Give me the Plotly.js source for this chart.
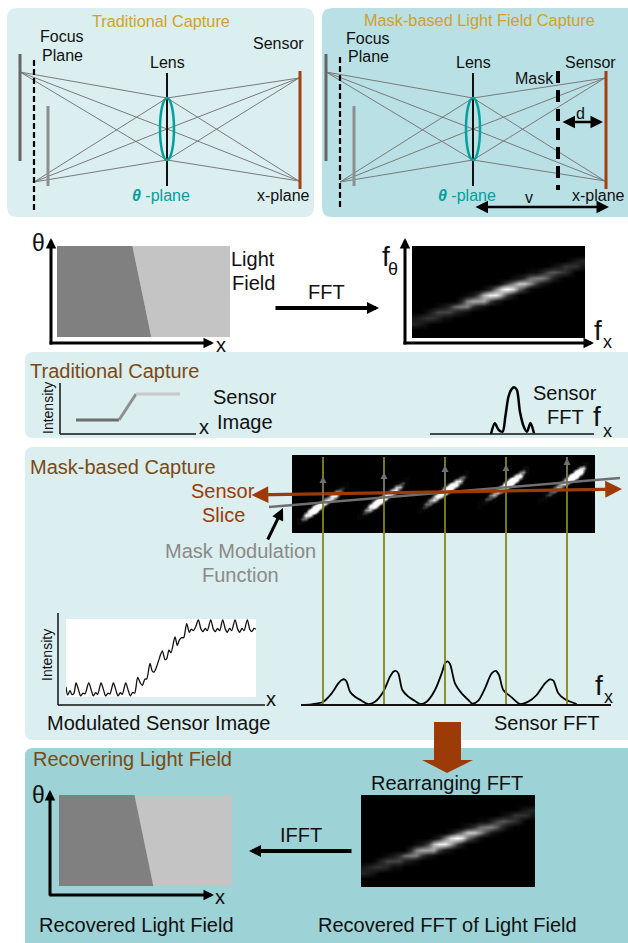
<!DOCTYPE html>
<html><head><meta charset="utf-8">
<script src="https://cdn.plot.ly/plotly-3.0.1.min.js"></script>
<style>html,body{margin:0;padding:0;background:#fff}#p{width:628px;height:943px}</style>
</head><body><div id="p"></div>
<script>
// ---------- values ----------
const fftRows = [
"000000000000000000000000000000",
"000000000000000000000000000000",
"000000000000000000000000000123",
"000000000000000000000000124442",
"000000000000000000001135654200",
"000000000000000001247886310000",
"000000000000000258cc9521000000",
"000000000000138dfd741000000000",
"000000000125beea52000000000000",
"0000000038aaa52100000000000000",
"000012478842100000000000000000",
"001355532100000000000000000000",
"234431100000000000000000000000",
"321000000000000000000000000000",
"000000000000000000000000000000",
"000000000000000000000000000000"];
const tile1 = ["00000000000011","00000000001331","00000000027620","00000002498200","00000037972000","000016c9310000","0002af92000000","003be710000000","03993000000000","25510000000000","21000000000000"];
const tile2 = ["00000000000011","00000000001341","00000000027720","00000002499200","00000038972000","000016eb310000","00028fa2000000","0029c710000000","02673000000000","13310000000000","11000000000000"];
const tile3 = ["00000000000012","00000000001452","00000000038830","000000027ca310","0000003af82000","000014ce610000","00016b93000000","00268510000000","02552000000000","13310000000000","11000000000000"];
const tile4 = ["00000000000022","00000000001562","00000000039a30","000000027eb310","0000002afa2000","000004bd610000","00015a83000000","00157410000000","01442000000000","12200000000000","10000000000000"];
const tile5 = ["00000000000022","00000000002782","0000000003bd50","000000026ed410","00000027da3000","00000379510000","00014762000000","00146310000000","01341000000000","12200000000000","10000000000000"];

const modX = [108,113,120,126,132,138,146,152,159,165,176,184,190,197,203,213,221,227,234,240,250,258,264,271,277,287,295,301,308,314,323,331,337,345,350,360,367,372,380,386,397,405,410,417,423,435,442,448,455,461,470,478,484,490,497,505,513,519,526,532,542,550,556,563,569,578,586,592,599,605,615,623,629,636,642,652,660,666,672,678];
const modI = [13,2.5,8,3,5,18,8.5,1.5,5,4,18,8.5,1.5,5.5,3.5,18,8.5,1.5,5,4,18,8.5,1.5,5.5,3.5,18,8,1.5,6,5,25,18,15,23,23,43,33,32,39,47,59,48,49,60,57,77,66,73,76,76,94,83,87,85,90,99,87,84,88,85,99,87,84,88,85,99,87,83,88,85,99,87,83,88,85,99,86,84,88,87];

const fftX = [18,50,85,110,130,140,148,155,165,180,200,218,240,265,285,295,303,310,322,340,360,375,395,420,440,450,457,465,480,500,520,532,550,570,590,603,612,625,650,675,700,725,750,765,775,790,810,845];
const fftA = [0,2,10,35,65,75,77,70,40,25,13,3,10,40,85,100,102,95,45,25,12,3,10,45,95,125,131,123,65,35,15,4,13,50,95,102,90,45,23,3,10,30,65,77,73,35,17,3];

const smallFftX = [491,494.8,498.7,502.6,505.3,508.4,511.5,514.2,516.9,520,523.9,527,530.5,534];
const smallFftA = [0,10.7,4,2.3,17,37,44.7,46.7,44,22,7,2.3,11,0.7];

const sensDarkX=[76,119], sensDarkI=[14,14];
const sensRiseX=[119,136], sensRiseI=[14,40];
const sensLightX=[136,180], sensLightI=[40,40];

const lfDarkX=[0,0.436,0.545,0], lfDarkY=[0,0,1,1];
const lfLightX=[0.436,1,1,0.545], lfLightY=[0,0,1,1];

// optics diagram (left panel coordinates; right panel is the same bench moved along)
const rayX=[20,167,299,null,20,167,299,null,20,167,299,null,34,167,299,null,34,167,299,null,34,167,299];
const rayY=[72,98,181,null,72,129,181,null,72,160,181,null,182,98,78,null,182,129,78,null,182,160,78];
const slitX=[323,384,445,506,567];
const arrowTipY=[476,472,465,464,458];
const arrowBaseY=[502,497,492,487,482];
const greyLineX=[269,620], greyLineY=[507,478];

const INK='#111111', GOLD='#d2a227', BROWN='#7a4a14', RUST='#9c3a08', TEAL='#00a09c', OLIVE='#85851a';
const FONT='"Liberation Sans", Arial, sans-serif';

// ---------- layout helpers ----------
const W=628,H=943;
const layout={width:W,height:H,margin:{l:0,r:0,t:0,b:0},paper_bgcolor:'#fff',plot_bgcolor:'rgba(0,0,0,0)',showlegend:false,
  xaxis:{domain:[0,1],range:[0,W],visible:false},yaxis:{domain:[0,1],range:[H,0],visible:false},shapes:[],annotations:[]};
function axes(n,x0,x1,y0,y1,xr,yr){
  layout['xaxis'+n]={domain:[x0/W,x1/W],range:xr,visible:false,anchor:'y'+n};
  layout['yaxis'+n]={domain:[1-y1/H,1-y0/H],range:yr,visible:false,anchor:'x'+n};
  return {xaxis:'x'+n,yaxis:'y'+n};
}
const FG=axes(16,0,W,0,H,[0,W],[H,0]);
const traces=[];
const SOFT=[[0,'#000'],[0.25,'#2c2c2c'],[0.6,'#929292'],[1,'#fff']];
const SHARP=[[0,'#000'],[0.2,'#0a0a0a'],[0.45,'#666'],[0.75,'#ececec'],[1,'#fff']];
function line(x,y,color,width,extra){traces.push(Object.assign({type:'scatter',mode:'lines',x,y,hoverinfo:'skip',line:Object.assign({color,width},extra||{})},FG));}
function poly(x,y,color,ax){traces.push(Object.assign({type:'scatter',mode:'lines',x,y,fill:'toself',fillcolor:color,line:{width:0,color},hoverinfo:'skip'},ax||FG));}
function curve(ax,x,y,color,width,smooth){traces.push(Object.assign({type:'scatter',mode:'lines',x,y,hoverinfo:'skip',line:{color,width,shape:smooth?'spline':'linear',smoothing:smooth?0.8:0}},ax));}
function heat(ax,rows,scale,zmax){traces.push(Object.assign({type:'heatmap',z:rows.map(r=>[...r].map(c=>parseInt(c,16))),zmin:0,zmax,zsmooth:'best',showscale:false,hoverinfo:'skip',colorscale:scale},ax));}
function rrect(x0,y0,x1,y1,r,color){
  layout.shapes.push({type:'path',xref:'x',yref:'y',layer:'below',line:{width:0},fillcolor:color,
   path:`M${x0+r},${y0}L${x1-r},${y0}Q${x1},${y0} ${x1},${y0+r}L${x1},${y1-r}Q${x1},${y1} ${x1-r},${y1}L${x0+r},${y1}Q${x0},${y1} ${x0},${y1-r}L${x0},${y0+r}Q${x0},${y0} ${x0+r},${y0}Z`});
}
function rect(x0,y0,x1,y1,color){layout.shapes.push({type:'rect',xref:'x',yref:'y',layer:'below',x0,y0,x1,y1,line:{width:0},fillcolor:color});}
function text(t,x,y,size,color,opt){layout.annotations.push(Object.assign({text:t,x,y,xref:'x',yref:'y',showarrow:false,xanchor:'center',yanchor:'middle',font:{family:FONT,size,color:color||INK}},opt||{}));}
function arrow(x0,y0,x1,y1,color,width,both,head,size){layout.annotations.push({text:'',x:x1,y:y1,ax:x0,ay:y0,xref:'x',yref:'y',axref:'x',ayref:'y',showarrow:true,arrowcolor:color,arrowwidth:width,arrowhead:head===undefined?2:head,arrowsize:size||1,startarrowhead:head===undefined?2:head,startarrowsize:size||1,arrowside:both?'end+start':'end',standoff:0,startstandoff:0});}

// ---------- panels ----------
rrect(7,8,314,217,10,'#dbeef0');
rrect(322,8,640,217,10,'#b9e0e4');
rrect(25,352,640,438,8,'#dbeef0');
rrect(25,447,640,740,8,'#dbeef0');
rrect(25,748,640,952,8,'#9dd3d6');
rect(66,619,256,697,'#ffffff');
rect(412,246,585,338,'#000');
rect(361,795,535,887,'#000');
rect(292,455,595,533,'#000');

// ---------- top optics benches ----------
[0,306].forEach(dx=>{
  const sx=a=>a.map(v=>v===null?null:v+dx);
  line(sx(rayX),rayY,'#7a7a7a',1);
  line(sx([20,20]),[54,161],'#666666',3);
  line(sx([48,48]),[106,186],'#8f8f8f',3);
  line(sx([167,167]),[73,186],'#111',2);
  line(sx([300,300]),[71,189],'#a2400f',3);
  layout.shapes.push({type:'circle',xref:'x',yref:'y',layer:'above',x0:160+dx,x1:174+dx,y0:98,y1:160,line:{color:TEAL,width:2.5},fillcolor:'rgba(0,0,0,0)'});
});
line([34,34],[60,211],'#000',2.2,{dash:'6px,3px'});
line([340,340],[57,207],'#000',2.2,{dash:'6px,3px'});
line([558,558],[71,190],'#000',4,{dash:'12px,7px'});
arrow(561,122,603,122,'#000',2.5,true);
arrow(474,207,609,207,'#000',2.5,true);

text('Traditional Capture',161,21,16.3,GOLD);
text('Mask-based Light Field Capture',479,20,16.3,GOLD);
text('Focus',62,36,16);text('Plane',62,55,16);
text('Sensor',278,43,16);text('Lens',167,62,16);
text('<b><i>θ</i></b> -plane',161,195,16,TEAL);text('x-plane',283,195,16);
text('Focus',368,38,16);text('Plane',368,56,16);
text('Lens',473,62,16);text('Mask',534,78,16);text('Sensor',590,62,16);
text('d',580,113,16);text('v',529,197,16);
text('<b><i>θ</i></b> -plane',467,195,16,TEAL);text('x-plane',598,195,16);

// ---------- light field and its FFT ----------
const LF1=axes(14,57,230,246,337,[0,1],[1,0]);
const LF2=axes(15,59,232,795,886,[0,1],[1,0]);
[LF1,LF2].forEach(a=>{poly(lfLightX,lfLightY,'#c4c4c4',a);poly(lfDarkX,lfDarkY,'#808080',a);});
heat(axes(6,412,585,246,338,[-0.5,29.5],[15.5,-0.5]),fftRows,SOFT,15);
heat(axes(7,361,535,795,887,[-0.5,29.5],[15.5,-0.5]),fftRows,SOFT,15);

arrow(51,346,51,238,'#000',3,false,2,0.7);arrow(48,343,214,343,'#000',3,false,2,0.7);
arrow(405,346,405,238,'#000',3,false,2,0.7);arrow(402,343,594,343,'#000',3,false,2,0.7);
text('θ',38,243,23);text('x',221,345,20);
text('Light',253,259,20);text('Field',253,283,20);
text('FFT',326,292,20);arrow(274,308,379,308,'#000',4,false,2,0.6);
text('f',386,256,28);text('θ',393,269,18);
text('f',598,330,28);text('x',607,342,18);

// ---------- traditional capture ----------
text('Traditional Capture',28,371,20,BROWN,{xanchor:'left'});
line([60,60],[383,434],'#111',1.5);line([60,196],[434,434],'#111',1.5);
text('Intensity',48,408,14,INK,{textangle:-90});
text('x',204,427,20);
const S=axes(4,60,196,383,434,[60,196],[0,51]);
curve(S,sensDarkX,sensDarkI,'#6e6e6e',3);curve(S,sensRiseX,sensRiseI,'#8f8f8f',3);curve(S,sensLightX,sensLightI,'#c8c8c8',3);
text('Sensor',245,397,20);text('Image',245,422,20);
line([430,594],[434,434],'#111',1.5);
curve(axes(5,430,594,384,434,[430,594],[0,50]),smallFftX,smallFftA,'#000',2.5,true);
text('Sensor',565,393,20);text('FFT',565,417,20);
text('f',597,416,28);text('x',607,431,18);

// ---------- mask-based capture ----------
text('Mask-based Capture',28,467,20,BROWN,{xanchor:'left'});
const TW=[297,357,417,477,537],TY=[482,477,471,466,462];
[tile1,tile2,tile3,tile4,tile5].forEach((t,i)=>heat(axes(8+i,TW[i],TW[i]+52,TY[i],TY[i]+43,[-0.5,13.5],[10.5,-0.5]),t,SHARP,11));
slitX.forEach(x=>line([x,x],[457,705],OLIVE,1.8));
arrow(250,495,622,489,RUST,3.2,true,2,1.05);
line(greyLineX,greyLineY,'#6f6f6f',2.5);
slitX.forEach((x,i)=>arrow(x,arrowBaseY[i],x,arrowTipY[i],'#6f6f6f',1.4));
arrow(267,541,283,508,'#000',3,false,2,0.8);
text('Sensor',223,491,20,RUST);text('Slice',223,515,20,RUST);
text('Mask Modulation',240,551,20,'#8a8a8a');text('Function',240,575,20,'#8a8a8a');

line([58,58],[613,705],'#111',1.5);line([58,265],[705,705],'#111',1.5);
text('Intensity',47,655,14,INK,{textangle:-90});
text('x',271,699,20);
curve(axes(2,66,256,619,697,[108,678],[0,100]),modX,modI,'#111',1.3,true);
text('Modulated Sensor Image',158,723,20);

line([301,611],[705,705],'#111',1.8);
curve(axes(3,295,628,640,705,[0,999],[0,195]),fftX,fftA,'#000',1.8,true);
text('f',599,685,28);text('x',608,697,18);
text('Sensor FFT',547,723,20);

poly([434,461,461,473,447,422,434,434],[722,722,760,760,773,760,760,722],RUST);

// ---------- recovering light field ----------
text('Recovering Light Field',31,759,20,BROWN,{xanchor:'left'});
arrow(50,897,50,790,'#000',3,false,2,0.7);arrow(48,895,214,895,'#000',3,false,2,0.7);
text('θ',38,795,23);text('x',220,897,20);
text('Rearranging FFT',447,783,20);
text('IFFT',301,835,20);arrow(353,851,249,851,'#000',4,false,2,0.6);
text('Recovered Light Field',136,925,20);
text('Recovered FFT of Light Field',447,925,20);

Plotly.newPlot('p',traces,layout,{displayModeBar:false,staticPlot:true});
</script></body></html>
